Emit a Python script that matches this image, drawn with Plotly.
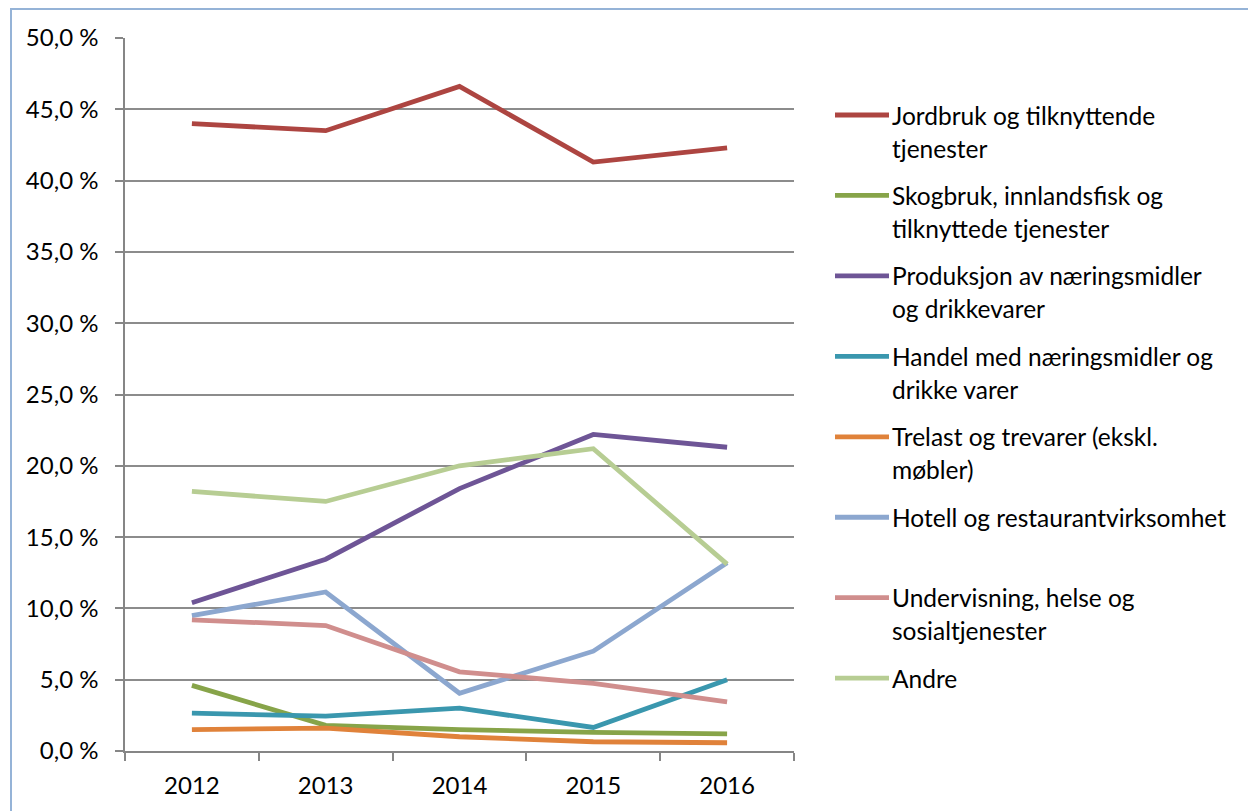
import plotly.graph_objects as go

# Category axis
years = ["2012", "2013", "2014", "2015", "2016"]

# Share of total (%) per sector and year
jordbruk = [44.0, 43.5, 46.6, 41.3, 42.3]
skogbruk = [4.6, 1.8, 1.5, 1.3, 1.2]
produksjon = [10.4, 13.45, 18.4, 22.2, 21.3]
handel = [2.65, 2.45, 3.0, 1.65, 5.0]
trelast = [1.5, 1.6, 1.0, 0.65, 0.58]
hotell = [9.5, 11.15, 4.05, 7.0, 13.2]
undervisning = [9.2, 8.8, 5.55, 4.75, 3.45]
andre = [18.2, 17.5, 20.0, 21.2, 13.1]

names = [
    "Jordbruk og tilknyttende<br>tjenester",
    "Skogbruk, innlandsfisk og<br>tilknyttede tjenester",
    "Produksjon av næringsmidler<br>og drikkevarer",
    "Handel med næringsmidler og<br>drikke varer",
    "Trelast og trevarer (ekskl.<br>møbler)",
    "Hotell og restaurantvirksomhet",
    "Undervisning, helse og<br>sosialtjenester",
    "Andre",
]
series = [jordbruk, skogbruk, produksjon, handel, trelast, hotell, undervisning, andre]
colors = ["#AD4541", "#87A449", "#6E5596", "#3A97AE", "#E0823A", "#8CA7CF", "#D08E8D", "#B7CD93"]

FONT = "Lato"
TICK_SIZE = 24
LEGEND_SIZE = 24.5
LINE_W = 4.8
W, H = 1248, 811
L, R, T, B = 125, 454, 38, 60
PW, PH = W - L - R, H - T - B


def px_x(x):
    return (x - L) / PW


def px_y(y):
    return (H - B - y) / PH


fig = go.Figure()
for name, vals, col in zip(names, series, colors):
    fig.add_trace(go.Scatter(
        x=years, y=vals, mode="lines", name=name.replace("<br>", " "),
        line=dict(color=col, width=LINE_W), showlegend=False,
    ))

# Legend drawn beside the plot: a short line swatch plus the label lines
shapes = []
annotations = []
for i, (name, col) in enumerate(zip(names, colors)):
    yc = 115 + 80.45 * i
    shapes.append(dict(type="line", xref="paper", yref="paper",
                       x0=px_x(835), x1=px_x(889), y0=px_y(yc), y1=px_y(yc),
                       line=dict(color=col, width=LINE_W)))
    for j, part in enumerate(name.split("<br>")):
        annotations.append(dict(
            xref="paper", yref="paper", x=px_x(890), y=px_y(yc + 33 * j),
            xanchor="left", yanchor="middle", text=part, showarrow=False,
            font=dict(family=FONT, size=LEGEND_SIZE, color="#000000"),
        ))

# Outer chart frame
shapes.append(dict(type="rect", xref="paper", yref="paper",
                   x0=px_x(11), x1=px_x(1300), y0=px_y(9), y1=px_y(860),
                   line=dict(color="#95B3D7", width=2), layer="below"))

fig.update_layout(
    width=W, height=H,
    margin=dict(l=L, r=R, t=T, b=B, pad=0),
    paper_bgcolor="white", plot_bgcolor="white",
    separators=", ",
    font=dict(family=FONT, size=TICK_SIZE, color="#000000"),
    shapes=shapes, annotations=annotations,
    xaxis=dict(
        type="category", range=[-0.5, 4.5], tickson="boundaries",
        showgrid=False, showline=True, linecolor="#868686", linewidth=1.5,
        ticks="outside", ticklen=8, tickcolor="#868686", tickwidth=1.5,
        ticklabelstandoff=12,
        tickfont=dict(family=FONT, size=TICK_SIZE), fixedrange=True,
    ),
    yaxis=dict(
        range=[0, 50], dtick=5, tick0=0, tickformat=".1f", ticksuffix=" %",
        showgrid=True, gridcolor="#8C8C8C", gridwidth=1.5,
        showline=True, linecolor="#868686", linewidth=1.5,
        ticks="outside", ticklen=8, tickcolor="#868686", tickwidth=1.5,
        ticklabelstandoff=12,
        tickfont=dict(family=FONT, size=TICK_SIZE), zeroline=False, fixedrange=True,
    ),
)

fig.write_html("out.html")
